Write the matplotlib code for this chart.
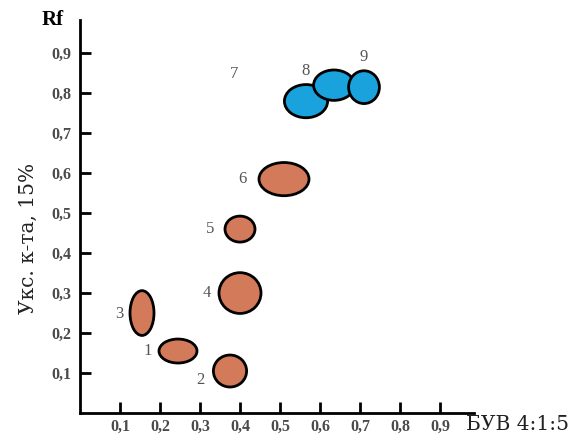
import matplotlib
matplotlib.use("Agg")
import matplotlib.pyplot as plt
from matplotlib.patches import Ellipse

# Spot data (Rf in system BUV 4:1:5 and acetic acid 15%)
spot_ids = ["1", "2", "3", "4", "5", "6", "8a", "8b", "9"]
rf_x = [0.245, 0.375, 0.155, 0.400, 0.400, 0.510, 0.565, 0.635, 0.710]
rf_y = [0.155, 0.105, 0.250, 0.300, 0.460, 0.585, 0.780, 0.820, 0.815]
spot_w = [0.095, 0.083, 0.060, 0.105, 0.075, 0.125, 0.108, 0.102, 0.077]
spot_h = [0.060, 0.080, 0.112, 0.102, 0.065, 0.083, 0.083, 0.076, 0.082]
spot_group = ["a", "a", "a", "a", "a", "a", "b", "b", "b"]

# Number labels
label_text = ["1", "2", "3", "4", "5", "6", "7", "8", "9"]
label_x = [0.170, 0.300, 0.098, 0.317, 0.325, 0.405, 0.385, 0.563, 0.710]
label_y = [0.155, 0.083, 0.248, 0.300, 0.460, 0.585, 0.848, 0.855, 0.890]

x_ticks = [0.1, 0.2, 0.3, 0.4, 0.5, 0.6, 0.7, 0.8, 0.9]
x_tick_labels = ["0,1", "0,2", "0,3", "0,4", "0,5", "0,6", "0,7", "0,8", "0,9"]
y_ticks = [0.1, 0.2, 0.3, 0.4, 0.5, 0.6, 0.7, 0.8, 0.9]
y_tick_labels = ["0,1", "0,2", "0,3", "0,4", "0,5", "0,6", "0,7", "0,8", "0,9"]

colors = {"a": "#D27A5A", "b": "#1AA2DC"}

plt.rcParams["font.family"] = ["Liberation Serif", "DejaVu Serif"]

fig = plt.figure(figsize=(5.72, 4.37), dpi=100)
ax = fig.add_axes([80 / 572, (437 - 413) / 437, 394 / 572, 393 / 437])
ax.set_xlim(0, 0.985)
ax.set_ylim(0, 0.983)

for i in range(len(spot_ids)):
    e = Ellipse((rf_x[i], rf_y[i]), spot_w[i], spot_h[i],
                facecolor=colors[spot_group[i]], edgecolor="black",
                linewidth=2.0, zorder=3 + i)
    ax.add_patch(e)

for t, x, y in zip(label_text, label_x, label_y):
    ax.text(x, y, t, ha="center", va="center", fontsize=12,
            color="#555555", zorder=20)

for s in ["top", "right"]:
    ax.spines[s].set_visible(False)
for s in ["left", "bottom"]:
    ax.spines[s].set_linewidth(2.0)
    ax.spines[s].set_color("black")

ax.set_xticks(x_ticks)
ax.set_xticklabels(x_tick_labels)
ax.set_yticks(y_ticks)
ax.set_yticklabels(y_tick_labels)
ax.tick_params(axis="both", direction="in", length=8, width=2, colors="black",
               labelcolor="#4a4a4a", labelsize=11.5)
ax.tick_params(axis="x", pad=4)
ax.tick_params(axis="y", pad=6)
for lbl in ax.get_xticklabels() + ax.get_yticklabels():
    lbl.set_fontweight("bold")

fig.text(53 / 572, 1 - 20 / 437, "Rf", fontsize=15, fontweight="bold",
         ha="center", va="center", color="black")
fig.text(28 / 572, 1 - 238 / 437, "Укс. к-та, 15%", fontsize=14.5,
         rotation=90, ha="center", va="center", color="#222222",
         family="DejaVu Serif")
fig.text(518 / 572, 1 - 425 / 437, "БУВ 4:1:5", fontsize=14.5,
         ha="center", va="center", color="#222222", family="DejaVu Serif")

fig.savefig("out.png", dpi=100, facecolor="white")
